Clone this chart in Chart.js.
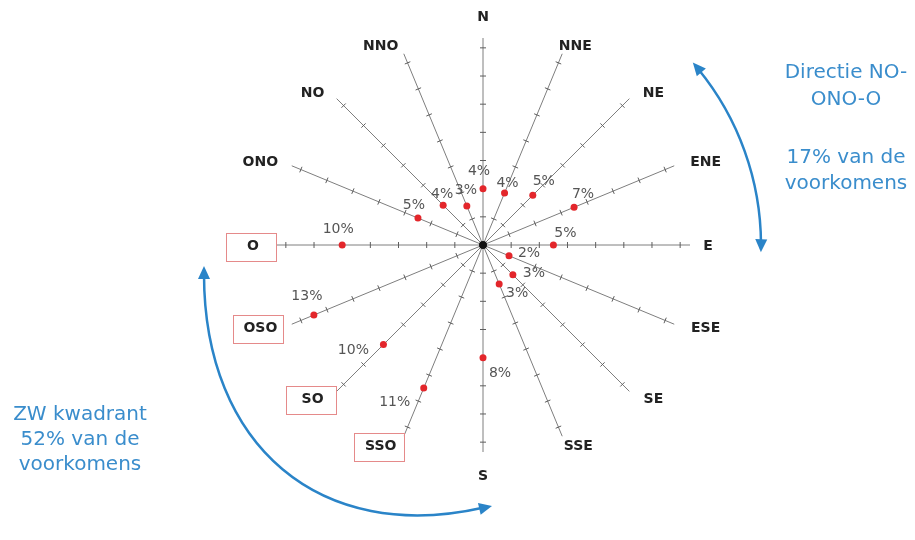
<!DOCTYPE html>
<html>
<head>
<meta charset="utf-8">
<script src="https://cdn.jsdelivr.net/npm/chart.js@4/dist/chart.umd.min.js"></script>
<style>
  html, body { margin: 0; padding: 0; background: #ffffff; }
  #wrap { width: 915px; height: 540px; position: relative; }
</style>
</head>
<body>
<div id="wrap"><canvas id="rose" width="915" height="540"></canvas></div>
<script>
// Wind directions (clockwise from north) and share of occurrences in percent
const directions = ['N', 'NNE', 'NE', 'ENE', 'E', 'ESE', 'SE', 'SSE', 'S', 'SSO', 'SO', 'OSO', 'O', 'ONO', 'NO', 'NNO'];
const frequency = [4, 4, 5, 7, 5, 2, 3, 3, 8, 11, 10, 13, 10, 5, 4, 3];
// Tick marks along every spoke (percent)
const spokeTicks = [2, 4, 6, 8, 10, 12, 14];
const axisMax = 14.7;
// Directions whose name is framed
const framedDirections = ['O', 'OSO', 'SO', 'SSO'];
// Side notes
const noteRight = ['Directie NO-', 'ONO-O', '17% van de', 'voorkomens'];
const noteLeft = ['ZW kwadrant', '52% van de', 'voorkomens'];

// Where each value label sits relative to its dot (dx, dy)
const valueLabelNudge = [
  [-4, -17], [3, -10], [11, -14], [9, -13], [12, -12], [20, -2], [21, -2], [18, 9],
  [17, 16], [-29, 14], [-30, 6], [-7, -19], [-4, -16], [-4, -13], [-1, -11], [-1, -16]
];

const BLUE_LINE = '#2a84c8';
const BLUE_TEXT = '#3a8dcc';

function arrowHead(ctx, x, y, ang, len, half) {
  ctx.save();
  ctx.translate(x, y);
  ctx.rotate(ang);
  ctx.beginPath();
  ctx.moveTo(0, 0);
  ctx.lineTo(-len, -half);
  ctx.lineTo(-len, half);
  ctx.closePath();
  ctx.fill();
  ctx.restore();
}

const roseDecor = {
  id: 'roseDecor',
  beforeDatasetsDraw(chart) {
    const ctx = chart.ctx;
    const r = chart.scales.r;
    const R = r.drawingArea;
    ctx.save();
    // small cross ticks on each spoke
    ctx.strokeStyle = '#5e5e5e';
    ctx.lineWidth = 1;
    directions.forEach((d, i) => {
      spokeTicks.forEach(v => {
        const p = r.getPointPosition(i, r.getDistanceFromCenterForValue(v));
        const nx = -Math.sin(p.angle), ny = Math.cos(p.angle);
        ctx.beginPath();
        ctx.moveTo(p.x - nx * 3, p.y - ny * 3);
        ctx.lineTo(p.x + nx * 3, p.y + ny * 3);
        ctx.stroke();
      });
    });
    // hub
    ctx.fillStyle = '#111';
    ctx.beginPath();
    ctx.arc(r.xCenter, r.yCenter, 4, 0, Math.PI * 2);
    ctx.fill();

    // direction names, laid out on a slightly wide ellipse around the rose
    ctx.font = 'bold 14px "DejaVu Sans"';
    ctx.textAlign = 'center';
    ctx.textBaseline = 'middle';
    directions.forEach((d, i) => {
      const p = r.getPointPosition(i, R);
      const ux = (p.x - r.xCenter) / R, uy = (p.y - r.yCenter) / R;
      let cx, cy;
      if (Math.abs(ux) < 1e-6) {
        cx = r.xCenter;
        cy = r.yCenter + uy * (R + (uy < 0 ? 21 : 24));
      } else if (Math.abs(uy) < 1e-6) {
        cx = r.xCenter + ux * (R + (ux > 0 ? 18 : 23));
        cy = r.yCenter + 1;
      } else {
        cx = r.xCenter + ux * (R + 34);
        cy = r.yCenter + uy * (R + 8 + (uy > 0 ? 3 : 0));
        // names next to the near-vertical spokes on the west side sit a bit further out
        if (ux < 0 && Math.abs(uy) > 0.9) cx -= 10;
        if (ux > 0 && uy > 0.9) cx += 3;
      }
      const w = ctx.measureText(d).width;
      if (framedDirections.includes(d)) {
        const bw = Math.max(50, w + 16), bh = 28;
        ctx.fillStyle = '#ffffff';
        ctx.fillRect(cx - bw / 2 - 2, cy - bh / 2 + 1, bw, bh);
        ctx.strokeStyle = '#e58a8a';
        ctx.lineWidth = 1;
        ctx.strokeRect(Math.round(cx - bw / 2 - 2) + 0.5, Math.round(cy - bh / 2 + 1) + 0.5, bw, bh);
      }
      ctx.fillStyle = '#222';
      ctx.fillText(d, cx, cy);
    });
    ctx.restore();
  },
  afterDatasetsDraw(chart) {
    const ctx = chart.ctx;
    const r = chart.scales.r;
    const meta = chart.getDatasetMeta(0);
    ctx.save();
    // value labels
    ctx.font = '14px "DejaVu Sans"';
    ctx.fillStyle = '#555';
    ctx.textAlign = 'center';
    ctx.textBaseline = 'middle';
    meta.data.forEach((pt, i) => {
      const [dx, dy] = valueLabelNudge[i];
      ctx.fillText(frequency[i] + '%', pt.x + dx, pt.y + dy);
    });

    // right double arrow (NE–E sector)
    const cx = r.xCenter, cy = r.yCenter;
    const rad = 278;
    const a0 = -41 * Math.PI / 180, a1 = 1.5 * Math.PI / 180;
    ctx.strokeStyle = BLUE_LINE;
    ctx.fillStyle = BLUE_LINE;
    ctx.lineWidth = 2.5;
    ctx.beginPath();
    ctx.arc(cx, cy, rad, a0 + 0.03, a1 - 0.03);
    ctx.stroke();
    arrowHead(ctx, cx + rad * Math.cos(a0), cy + rad * Math.sin(a0), a0 - Math.PI / 2, 13, 6);
    arrowHead(ctx, cx + rad * Math.cos(a1), cy + rad * Math.sin(a1), a1 + Math.PI / 2, 13, 6);

    // left double arrow (SW quadrant)
    const P0 = [204, 266], C1 = [204, 446], C2 = [320, 545], P3 = [492, 506];
    ctx.beginPath();
    ctx.moveTo(P0[0], P0[1] + 8);
    ctx.bezierCurveTo(C1[0], C1[1], C2[0], C2[1], P3[0] - 8, P3[1] + 1.5);
    ctx.stroke();
    arrowHead(ctx, P0[0], P0[1], Math.atan2(P0[1] - C1[1], P0[0] - C1[0]), 13, 6);
    arrowHead(ctx, P3[0], P3[1], Math.atan2(P3[1] - C2[1], P3[0] - C2[0]), 13, 6);

    // notes
    ctx.font = '20px "DejaVu Sans"';
    ctx.fillStyle = BLUE_TEXT;
    ctx.textAlign = 'center';
    ctx.textBaseline = 'alphabetic';
    const rightY = [78, 105, 163, 189];
    noteRight.forEach((t, k) => ctx.fillText(t, 846, rightY[k]));
    const leftY = [420, 445, 470];
    noteLeft.forEach((t, k) => ctx.fillText(t, 80, leftY[k]));
    ctx.restore();
  }
};

new Chart(document.getElementById('rose'), {
  type: 'radar',
  data: {
    labels: directions,
    datasets: [{
      data: frequency,
      showLine: false,
      fill: false,
      borderWidth: 0,
      pointRadius: 3.5,
      pointBorderWidth: 0,
      pointBackgroundColor: '#e3262b'
    }]
  },
  options: {
    responsive: false,
    animation: false,
    devicePixelRatio: 1,
    layout: { padding: { left: 276, right: 225, top: 38, bottom: 88 } },
    plugins: { legend: { display: false }, tooltip: { enabled: false } },
    scales: {
      r: {
        min: 0,
        max: axisMax,
        ticks: { display: false },
        grid: { display: false },
        angleLines: { display: true, color: '#7e7e7e', lineWidth: 1 },
        pointLabels: { display: false }
      }
    }
  },
  plugins: [roseDecor]
});
</script>
</body>
</html>
